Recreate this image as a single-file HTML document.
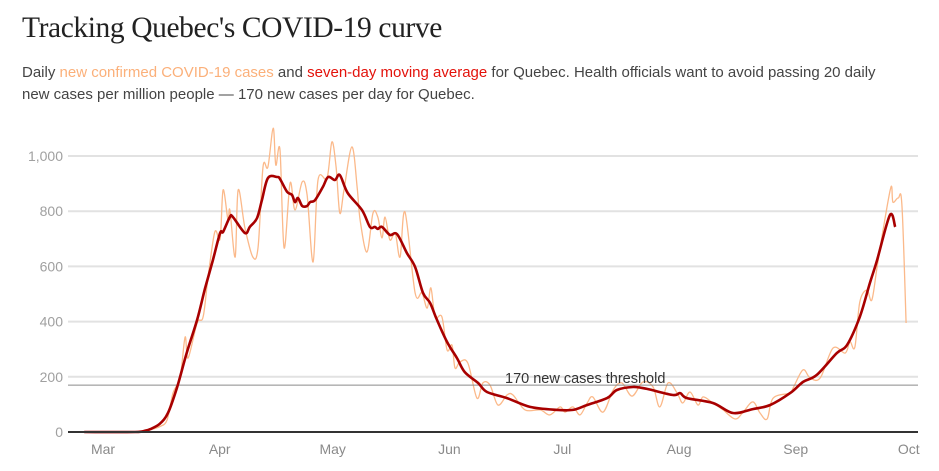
<!DOCTYPE html>
<html><head><meta charset="utf-8"><style>
body{margin:0;background:#fff;width:939px;height:471px;overflow:hidden;font-family:"Liberation Sans",sans-serif}
#title{position:absolute;left:22px;top:12px;font-family:"Liberation Serif",serif;font-size:29.5px;color:#222;letter-spacing:-0.4px;margin:0;font-weight:normal}
#sub{position:absolute;left:22px;top:62px;white-space:nowrap;font-size:15px;line-height:22px;color:#444;margin:0}
.o{color:#fbb07a}.r{color:#e3120b}
svg{position:absolute;left:0;top:0}
</style></head><body>
<h1 id="title">Tracking Quebec's COVID-19 curve</h1>
<p id="sub">Daily <span class="o">new confirmed COVID-19 cases</span> and <span class="r">seven-day moving average</span> for Quebec. Health officials want to avoid passing 20 daily<br>new cases per million people — 170 new cases per day for Quebec.</p>
<svg id="chart" width="939" height="471"></svg>
<script>
const yTicks=[0,200,400,600,800,1000];
const yTickLabels=["0","200","400","600","800","1,000"];
const monthDays=[0,31,61,92,122,153,184,214];
const monthLabels=["Mar","Apr","May","Jun","Jul","Aug","Sep","Oct"];
const threshold=170;
const maDays=[-5,8.5,11.2,12.5,15.1,17.3,19.7,22.3,25,27.1,29.2,31.1,31.9,33.7,34.5,37.7,39,40.9,42.2,43.8,46.2,47,48.9,50.2,51,51.8,52.9,54.2,55,56.3,58.4,59.8,61.6,62.9,65,68.8,70.9,72.2,73,74.1,76.2,78.1,80.7,82.9,85,86.9,88.7,91.4,94,96.1,99.6,102,107.3,113.4,120.6,124.8,128.6,133.9,136.5,140.8,144.5,151.4,153.3,155.1,162,167.3,172.6,177.2,182.5,185.9,189.6,194.9,197.6,201,203.7,205.6,209,210.4];
const maValues=[0,0,5,10,30,70,163,290,406,520,623,721,725,779,779,721,743,775,840,920,924,917,870,859,833,848,819,819,833,840,888,924,913,931,866,804,743,743,736,743,714,717,649,598,504,467,406,326,268,217,178,145,123,91,80,80,98,123,152,163,156,134,141,123,105,69,83,98,141,181,207,286,315,417,540,623,786,743];
const rawDays=[-5,9.8,12.5,15.1,17,18.6,20.5,21.8,22.6,25,26.6,27.9,29.7,31.1,31.9,33.2,33.7,35.1,35.9,37.7,39.8,41.2,42.5,43.8,45.2,45.9,47,48.1,49.7,51,52.9,54.2,55.8,57.1,59.5,60.8,61.9,62.9,64,66.1,67.5,68.3,70.1,71.7,73,74.1,74.9,76.2,77.6,78.9,80.2,82.9,84.7,86.1,87.1,88.2,90,91.4,92.7,93.5,94.8,96.9,99.3,100.9,102.8,104.9,107.3,108.9,112.1,116.1,118.7,121.4,122.7,124.8,126.7,128.6,130.1,132.8,135.5,137.8,140.5,143.4,146.1,147.9,150.1,152.5,154,155.9,158,159.4,162,164.7,167.9,170,172.6,174.5,176.4,178,182.5,183.3,185.9,187.8,190.5,193.9,197.1,198.4,199.7,201,202.9,204.2,205.6,207.2,209.3,209.8,211.2,212.2,213.3];
const rawValues=[0,0,8,20,43,141,200,344,268,395,417,560,725,700,877,768,804,634,877,740,634,670,960,960,1101,967,1022,667,902,804,906,859,616,913,920,1051,960,793,877,1033,888,768,652,793,779,703,779,696,721,634,797,504,504,449,522,417,417,297,315,232,254,250,123,178,170,98,134,134,80,80,62,91,72,91,62,105,127,72,152,178,130,181,163,91,178,141,105,145,98,127,105,80,47,72,109,69,47,123,141,159,225,196,196,304,286,326,308,471,514,478,598,732,888,833,848,822,395];

const NS="http://www.w3.org/2000/svg";
const svg=document.getElementById('chart');
const X0=68,X1=918;
const xs=d=>103+d*3.765;
const ys=v=>432-v*0.276;
function el(t,a){const e=document.createElementNS(NS,t);for(const k in a)e.setAttribute(k,a[k]);svg.appendChild(e);return e;}
yTicks.forEach((v,i)=>{
  if(v>0){const g=el('line',{x1:X0,x2:X1,y1:ys(v),y2:ys(v),stroke:'#e2e2e2','stroke-width':2});
  
  }
  const t=el('text',{x:63,y:ys(v)+5,'text-anchor':'end','font-size':14,fill:'#a0a0a0','font-family':'Liberation Sans, sans-serif'});
  t.textContent=yTickLabels[i];
  
  
});
monthDays.forEach((d,i)=>{
  const t=el('text',{x:xs(d),y:454,'text-anchor':'middle','font-size':14,fill:'#8a8a8a','font-family':'Liberation Sans, sans-serif'});
  t.textContent=monthLabels[i];
  
  
});
function path(days,vals){
  const p=days.map((d,i)=>[xs(d),ys(vals[i])]);
  let s='M'+p[0][0].toFixed(1)+','+p[0][1].toFixed(1);
  for(let i=0;i<p.length-1;i++){
    const a=p[Math.max(0,i-1)],b=p[i],c=p[i+1],e=p[Math.min(p.length-1,i+2)];
    const k=1/6;
    s+=' C'+(b[0]+(c[0]-a[0])*k).toFixed(1)+','+(b[1]+(c[1]-a[1])*k).toFixed(1)+' '+(c[0]-(e[0]-b[0])*k).toFixed(1)+','+(c[1]-(e[1]-b[1])*k).toFixed(1)+' '+c[0].toFixed(1)+','+c[1].toFixed(1);
  }
  return s;
}
const raw=el('path',{d:path(rawDays,rawValues),fill:'none',stroke:'#fbb98a','stroke-width':1.3});


const th=el('line',{x1:X0,x2:X1,y1:ys(threshold),y2:ys(threshold),stroke:'#8a8a8a','stroke-width':1});


const tl=el('text',{x:505,y:ys(threshold)-2,'font-size':14.5,fill:'#333','font-family':'Liberation Sans, sans-serif'});
tl.textContent='170 new cases threshold';


const ma=el('path',{d:path(maDays,maValues),fill:'none',stroke:'#a80000','stroke-width':2.6,'stroke-linejoin':'round'});


const z=el('line',{x1:X0,x2:X1,y1:ys(0),y2:ys(0),stroke:'#333','stroke-width':2});


</script>
</body></html>
